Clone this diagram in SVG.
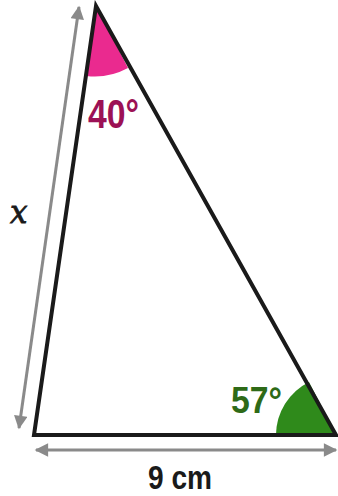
<svg xmlns="http://www.w3.org/2000/svg" width="338" height="496" viewBox="0 0 338 496">
<style>
.edge{stroke:#1a1a1a;stroke-width:4;fill:none;stroke-linejoin:miter}
.dim{stroke:#8a8a8a;stroke-width:3;fill:none}
.lbl{font-family:"Liberation Sans Narrow","Liberation Sans",Arial,sans-serif;font-weight:bold}
</style>
<defs>
<marker id="ah" viewBox="0 0 10 10" refX="9" refY="5" markerWidth="5" markerHeight="4.5" markerUnits="strokeWidth" orient="auto-start-reverse">
<path d="M0,0 L10,5 L0,10 z" fill="#8a8a8a"/>
</marker>
</defs>
<g id="angle-top">
<path d="M96,6 L86.5,76 A70,70 0 0 0 128,68 Z" fill="#ea2a8f"/>
</g>
<g id="angle-right">
<path d="M336,435 L276,435 A60,60 0 0 1 309,382 Z" fill="#2f8a1b"/>
</g>
<g id="triangle">
<path class="edge" d="M96,6 L34,435 L336,435 Z"/>
</g>
<g id="connectors">
<line class="dim" x1="19" y1="428" x2="79" y2="7" marker-start="url(#ah)" marker-end="url(#ah)"/>
<line class="dim" x1="36" y1="450" x2="336" y2="450" marker-start="url(#ah)" marker-end="url(#ah)"/>
</g>
<g id="labels">
<text class="lbl" x="88" y="128" font-size="40" fill="#9c1155" textLength="51" lengthAdjust="spacingAndGlyphs">40°</text>
<text class="lbl" x="231" y="413" font-size="37" fill="#2e6a17" textLength="51" lengthAdjust="spacingAndGlyphs">57°</text>
<text class="lbl" x="148" y="489" font-size="34" fill="#1a1a1a" textLength="64" lengthAdjust="spacingAndGlyphs">9 cm</text>
<text x="10" y="223" font-family="'DejaVu Serif','Liberation Serif',serif" font-style="italic" font-size="31" fill="#1a1a1a" stroke="#1a1a1a" stroke-width="0.8">x</text>
</g>
</svg>
